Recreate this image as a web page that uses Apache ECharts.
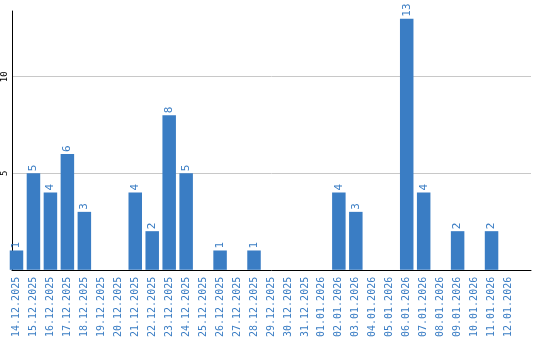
<!DOCTYPE html>
<html><head><meta charset="utf-8">
<script src="https://cdn.jsdelivr.net/npm/echarts@6/dist/echarts.min.js"></script>
<style>html,body{margin:0;padding:0;background:#fff}#c{width:540px;height:340px}</style>
</head><body><div id="c"></div>
<script>
var categories = ["14.12.2025","15.12.2025","16.12.2025","17.12.2025","18.12.2025","19.12.2025","20.12.2025","21.12.2025","22.12.2025","23.12.2025","24.12.2025","25.12.2025","26.12.2025","27.12.2025","28.12.2025","29.12.2025","30.12.2025","31.12.2025","01.01.2026","02.01.2026","03.01.2026","04.01.2026","05.01.2026","06.01.2026","07.01.2026","08.01.2026","09.01.2026","10.01.2026","11.01.2026","12.01.2026"];
var values = [1,5,4,6,3,0,0,4,2,8,5,0,1,0,1,0,0,0,0,4,3,0,0,13,4,0,2,0,2,0];
var yTicks = [0,5,10];
var blue = '#3a7dc4';
var font = 'DejaVu Sans Mono';
var yMax = 13.4;
var chart = echarts.init(document.getElementById('c'), null, {renderer:'canvas'});
chart.setOption({
  animation:false,
  grid:[
    {left:10, top:11, right:9, bottom:70, containLabel:false},
    {left:8, top:11, width:509, bottom:70, containLabel:false}
  ],
  xAxis:[
    {gridIndex:0, type:'category', data:categories, boundaryGap:true,
      axisLine:{lineStyle:{color:'#000', width:1}}, axisTick:{show:false}, axisLabel:{show:false}},
    {gridIndex:1, type:'category', data:categories,
      axisLine:{show:false}, axisTick:{show:false},
      axisLabel:{rotate:90, interval:0, color:blue, fontFamily:font, fontSize:10, margin:7}}
  ],
  yAxis:[
    {gridIndex:0, type:'value', min:0, max:yMax, interval:5,
      axisLine:{show:true, lineStyle:{color:'#000', width:1}},
      axisTick:{show:false},
      axisLabel:{rotate:90, color:'#000', fontFamily:font, fontSize:9, margin:3,
        formatter:function(v){return (v>0 && yTicks.indexOf(v)>=0) ? String(v) : '';}},
      splitLine:{show:true, showMaxLine:false, showMinLine:false, lineStyle:{color:'#c8c8c8', width:1}}},
    {gridIndex:1, type:'value', min:0, max:yMax, interval:5, show:false}
  ],
  series:[{type:'bar', xAxisIndex:1, yAxisIndex:1, data:values, barWidth:13.5, itemStyle:{color:blue},
    label:{show:true, position:'top', rotate:90, align:'left', verticalAlign:'middle', distance:2,
      color:blue, fontFamily:font, fontSize:11,
      formatter:function(p){return p.value ? String(p.value) : '';}}
  }]
});
</script></body></html>
